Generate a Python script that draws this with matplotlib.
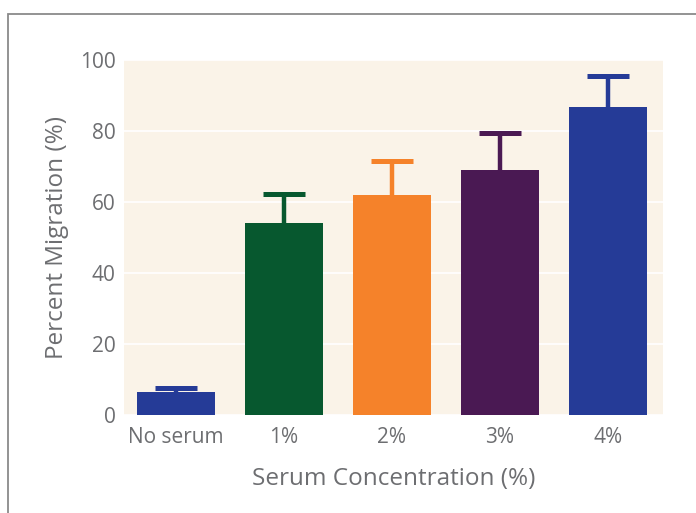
import matplotlib.pyplot as plt
from matplotlib.patches import Rectangle

# data
groups = ["No serum", "1%", "2%", "3%", "4%"]
migration = [6.4, 54.0, 62.0, 69.0, 86.8]
err_upper = [1.2, 8.3, 9.5, 10.4, 8.8]
bar_colors = ["#253b97", "#07582f", "#f5822a", "#4a1953", "#253b97"]

text_gray = "#6d6e71"
plt.rcParams["font.family"] = ["Open Sans", "DejaVu Sans"]

fig = plt.figure(figsize=(6.96, 5.13), dpi=100)
ax = fig.add_axes([124 / 696, 98 / 513, 539 / 696, 355 / 513])

# outer frame box (open at right/bottom, clipped by figure edge)
fig.patches.append(Rectangle((8 / 696, -0.1), 1.1, (513 - 14) / 513 + 0.1,
                             transform=fig.transFigure, fill=False,
                             edgecolor="#8a8a8a", linewidth=1.3))

ax.set_facecolor("#faf3e8")
x = list(range(len(groups)))
ax.bar(x, migration, width=0.72, color=bar_colors, zorder=3)

# upper-only error bars: stem + cap
tops = [m + e for m, e in zip(migration, err_upper)]
ax.vlines(x, migration, tops, colors=bar_colors, linewidth=3.2, zorder=2)
ax.hlines(tops, [xi - 0.195 for xi in x], [xi + 0.195 for xi in x],
          colors=bar_colors, linewidth=3.6, zorder=2)

ax.set_xlim(-0.48, 4.51)
ax.set_ylim(0, 100)
ax.set_yticks([0, 20, 40, 60, 80, 100])
ax.yaxis.grid(True, color="white", linewidth=1.2, zorder=0)
ax.set_axisbelow(True)
for s in ax.spines.values():
    s.set_visible(False)
ax.tick_params(length=0, labelsize=15, labelcolor=text_gray)
ax.tick_params(axis="y", pad=6)
ax.tick_params(axis="x", pad=8.5)
ax.set_xticks(x)
ax.set_xticklabels(groups)
ax.set_xlabel("Serum Concentration (%)", fontsize=17.5, color=text_gray, labelpad=13.5)
ax.set_ylabel("Percent Migration (%)", fontsize=17.5, color=text_gray, labelpad=8)

fig.savefig("out.png", dpi=100)
